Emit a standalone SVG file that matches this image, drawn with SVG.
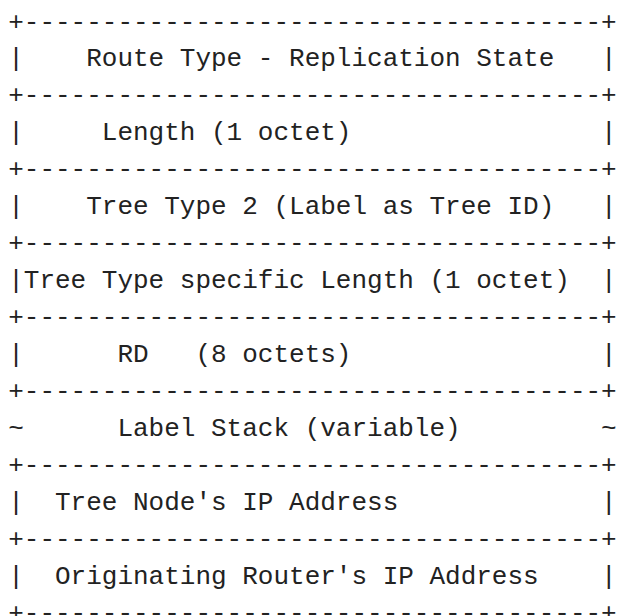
<svg xmlns="http://www.w3.org/2000/svg" width="618" height="616" viewBox="0 0 618 616">
<style>
text { font-family: "Liberation Mono", "DejaVu Sans Mono", monospace; font-size: 26px; fill: #222222; white-space: pre; }
</style>
<rect width="618" height="616" fill="#ffffff"/>
<g id="borders">
<text x="8.2" y="29.5" xml:space="preserve">+-------------------------------------+</text>
<text x="8.2" y="103.4" xml:space="preserve">+-------------------------------------+</text>
<text x="8.2" y="177.3" xml:space="preserve">+-------------------------------------+</text>
<text x="8.2" y="251.1" xml:space="preserve">+-------------------------------------+</text>
<text x="8.2" y="325.0" xml:space="preserve">+-------------------------------------+</text>
<text x="8.2" y="398.9" xml:space="preserve">+-------------------------------------+</text>
<text x="8.2" y="472.8" xml:space="preserve">+-------------------------------------+</text>
<text x="8.2" y="546.7" xml:space="preserve">+-------------------------------------+</text>
<text x="8.2" y="620.5" xml:space="preserve">+-------------------------------------+</text>
</g>
<g id="route-type">
<text x="8.2" y="66.4" xml:space="preserve">|    Route Type - Replication State   |</text>
</g>
<g id="length">
<text x="8.2" y="140.3" xml:space="preserve">|     Length (1 octet)                |</text>
</g>
<g id="tree-type">
<text x="8.2" y="214.2" xml:space="preserve">|    Tree Type 2 (Label as Tree ID)   |</text>
</g>
<g id="tree-type-length">
<text x="8.2" y="288.1" xml:space="preserve">|Tree Type specific Length (1 octet)  |</text>
</g>
<g id="rd">
<text x="8.2" y="362.0" xml:space="preserve">|      RD   (8 octets)                |</text>
</g>
<g id="label-stack">
<text x="8.2" y="435.9" xml:space="preserve">~      Label Stack (variable)         ~</text>
</g>
<g id="tree-node-ip">
<text x="8.2" y="509.7" xml:space="preserve">|  Tree Node's IP Address             |</text>
</g>
<g id="originating-router-ip">
<text x="8.2" y="583.6" xml:space="preserve">|  Originating Router's IP Address    |</text>
</g>
</svg>
